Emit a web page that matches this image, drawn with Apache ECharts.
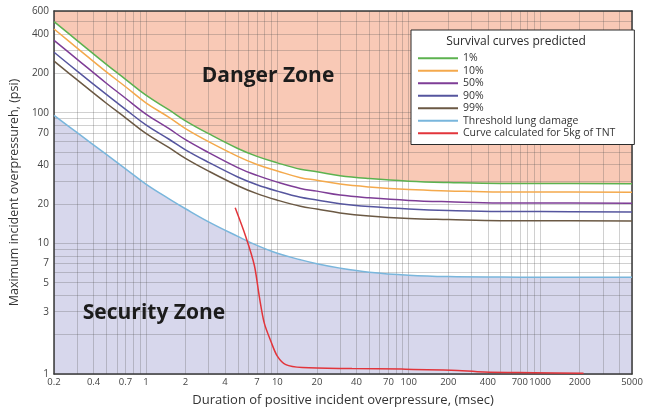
<!DOCTYPE html>
<html>
<head>
<meta charset="utf-8">
<script src="https://cdn.jsdelivr.net/npm/echarts@6/dist/echarts.min.js"></script>
<style>
html,body{margin:0;padding:0;background:#fff;}
#chart{width:651px;height:412px;}
</style>
</head>
<body>
<div id="chart"></div>
<script>
// ---- data ----
const durations = [0.2, 0.3, 0.5, 0.7, 1, 1.5, 2, 3, 5, 7, 10, 15, 20, 30, 50, 100, 200, 500, 1000, 5000];
const surv1  = [498, 356, 234, 180, 136, 105, 86.7, 69.1, 53.2, 46.3, 41.3, 36.9, 35.3, 32.9, 31.3, 29.9, 29.2, 28.7, 28.7, 28.6];
const surv10 = [437, 312, 205, 158, 119, 92, 75.5, 60, 46.3, 40.1, 35.8, 31.8, 30.4, 28.4, 27.0, 25.8, 25.2, 24.7, 24.7, 24.6];
const surv50 = [358, 256, 168, 129, 97.6, 75.4, 62.1, 49.5, 38, 33.1, 29.4, 26.3, 25.1, 23.4, 22.3, 21.3, 20.8, 20.4, 20.4, 20.3];
const surv90 = [290, 208, 138, 106, 80.6, 62.6, 52, 41.7, 32.2, 28.1, 25.1, 22.5, 21.5, 20.1, 19.1, 18.3, 17.8, 17.5, 17.5, 17.4];
const surv99 = [248, 178, 118, 91.4, 69.5, 54, 44.7, 35.7, 27.6, 24, 21.4, 19.2, 18.3, 17.1, 16.2, 15.5, 15.2, 14.9, 14.9, 14.8];
const lungThreshold = [95.4, 70.3, 47.9, 37.2, 28.4, 21.9, 18.4, 14.6, 11.3, 9.64, 8.39, 7.49, 6.98, 6.46, 6.02, 5.71, 5.57, 5.52, 5.51, 5.49];
const tntDuration = [4.78, 5.78, 6.69, 7.30, 7.96, 8.93, 10.0, 11.6, 15.5, 37, 88, 211, 375, 895, 2140];
const tntPressure = [18.7, 11.1, 6.77, 3.89, 2.45, 1.78, 1.37, 1.18, 1.12, 1.10, 1.09, 1.07, 1.035, 1.023, 1.012];

const seriesNames = ['1%', '10%', '50%', '90%', '99%', 'Threshold lung damage', 'Curve calculated for 5kg of TNT'];
const xTickLabels = [0.2, 0.4, 0.7, 1, 2, 4, 7, 10, 20, 40, 70, 100, 200, 400, 700, 1000, 2000, 5000];
const yTickLabels = [1, 3, 5, 7, 10, 20, 40, 70, 100, 200, 400, 600];
const xGridValues = [0.2,0.3,0.4,0.5,0.6,0.7,0.8,0.9,1,2,3,4,5,6,7,8,9,10,20,30,40,50,60,70,80,90,100,200,300,400,500,600,700,800,900,1000,2000,3000,4000,5000];
const yGridValues = [1,2,3,4,5,6,7,8,9,10,20,30,40,50,60,70,80,90,100,200,300,400,500,600];

// ---- styles ----
const FONT = 'Open Sans';
const colors = ['#5cb24f', '#f4a94c', '#7e3d96', '#55559e', '#6b5944', '#79b6dc', '#e2353b'];
const pair = (xs, ys) => xs.map((x, i) => [x, ys[i]]);
const SMOOTH = 0.4;

const curveData = [surv1, surv10, surv50, surv90, surv99, lungThreshold];
const curveSeries = curveData.map((ys, i) => ({
  name: seriesNames[i], type: 'line', data: pair(durations, ys),
  smooth: SMOOTH, showSymbol: false, z: 5, silent: true,
  lineStyle: { color: colors[i], width: 1.5 }, itemStyle: { color: colors[i] }
}));
curveSeries.push({
  name: seriesNames[6], type: 'line', data: pair(tntDuration, tntPressure),
  smooth: 0.3, showSymbol: false, z: 6, silent: true,
  lineStyle: { color: colors[6], width: 1.5 }, itemStyle: { color: colors[6] }
});

const fillSeries = [
  { name: 'fill-safe', type: 'line', data: pair(durations, surv1), smooth: SMOOTH,
    showSymbol: false, z: 1, silent: true, lineStyle: { width: 0 },
    areaStyle: { color: '#ffffff', opacity: 1, origin: 'start' } },
  { name: 'fill-security', type: 'line', data: pair(durations, lungThreshold), smooth: SMOOTH,
    showSymbol: false, z: 1, silent: true, lineStyle: { width: 0 },
    areaStyle: { color: '#d7d7ec', opacity: 1, origin: 'start' } }
];

const gridLine = { show: true, lineStyle: { color: 'rgba(80,80,80,0.27)', width: 1 } };
const frameLine = { show: true, onZero: false, lineStyle: { color: '#3a3a3a', width: 1.5 } };

const chart = echarts.init(document.getElementById('chart'), null, { renderer: 'canvas' });
chart.setOption({
  animation: false,
  grid: { left: 50, right: 19, top: 11, bottom: 34, show: true, backgroundColor: '#f9c9b6', borderWidth: 0 },
  xAxis: [
    { type: 'log', logBase: 10, min: 0.2, max: 5000, position: 'bottom', z: 3,
      axisLine: frameLine,
      axisTick: { show: false, customValues: xGridValues },
      axisLabel: { customValues: xTickLabels, formatter: v => String(v), margin: 3,
                   fontFamily: FONT, fontSize: 9.5, color: '#444' },
      splitLine: gridLine,
      name: 'Duration of positive incident overpressure, (msec)', nameLocation: 'middle', nameGap: 20,
      nameTextStyle: { fontFamily: FONT, fontSize: 13, color: '#333' } },
    { type: 'log', logBase: 10, min: 0.2, max: 5000, position: 'top', z: 3,
      axisLine: frameLine, axisTick: { show: false }, axisLabel: { show: false }, splitLine: { show: false } }
  ],
  yAxis: [
    { type: 'log', logBase: 10, min: 1, max: 600, position: 'left', z: 3,
      axisLine: frameLine,
      axisTick: { show: false, customValues: yGridValues },
      axisLabel: { customValues: yTickLabels, formatter: v => String(v), margin: 5,
                   fontFamily: FONT, fontSize: 10, color: '#444' },
      splitLine: gridLine,
      name: 'Maximum incident overpressureh, (psi)', nameLocation: 'middle', nameGap: 21,
      nameTextStyle: { fontFamily: FONT, fontSize: 12.5, color: '#333' } },
    { type: 'log', logBase: 10, min: 1, max: 600, position: 'right', z: 3,
      axisLine: frameLine, axisTick: { show: false }, axisLabel: { show: false }, splitLine: { show: false } }
  ],
  legend: {
    orient: 'vertical', left: 411, top: 30, data: seriesNames, selectedMode: false,
    icon: 'rect', itemWidth: 40, itemHeight: 2, itemGap: 0, itemTextGap: 9,
    padding: [22, 19, 5, 7], backgroundColor: '#ffffff', borderColor: '#2b2b2b', borderWidth: 1,
    textStyle: { fontFamily: FONT, fontSize: 10.5, color: '#333', lineHeight: 12.5 }, z: 10
  },
  graphic: [
    { type: 'text', x: 516, y: 42, z: 20,
      style: { text: 'Survival curves predicted', font: '12px "Open Sans"', fill: '#2a2a2a', textAlign: 'center', textVerticalAlign: 'middle' } },
    { type: 'text', x: 268, y: 76, z: 20,
      style: { text: 'Danger Zone', font: 'bold 21px "Open Sans"', fill: '#1c1c1c', textAlign: 'center', textVerticalAlign: 'middle' } },
    { type: 'text', x: 154, y: 313, z: 20,
      style: { text: 'Security Zone', font: 'bold 21px "Open Sans"', fill: '#1c1c1c', textAlign: 'center', textVerticalAlign: 'middle' } }
  ],
  series: fillSeries.concat(curveSeries)
});
</script>
</body>
</html>
